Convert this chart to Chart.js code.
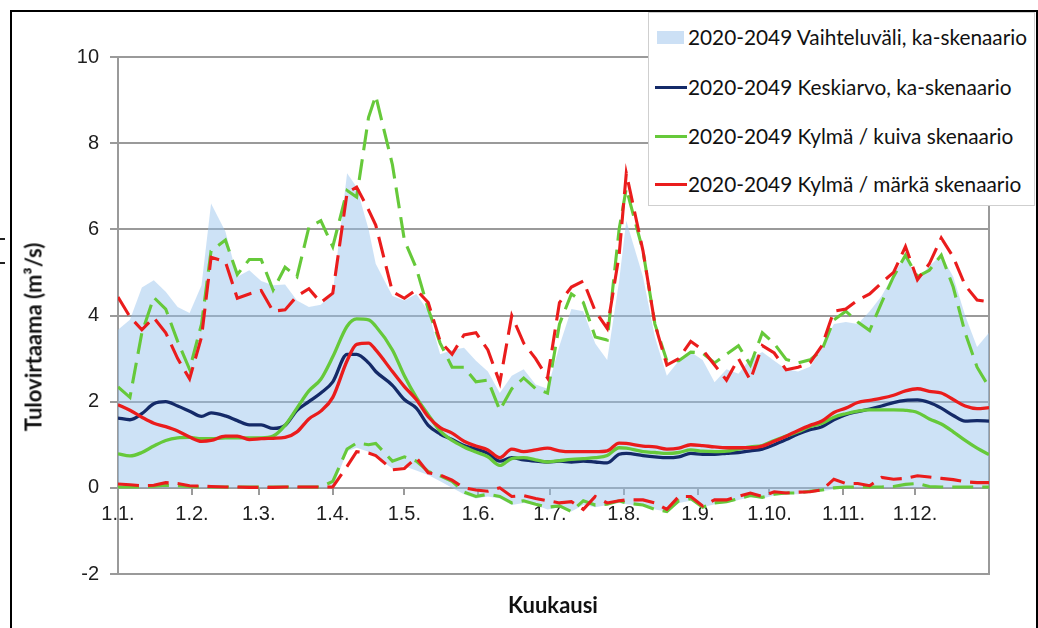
<!DOCTYPE html>
<html lang="fi">
<head>
<meta charset="utf-8">
<title>Tulovirtaama 2020-2049</title>
<script src="https://cdn.jsdelivr.net/npm/chart.js@4.4.1/dist/chart.umd.min.js"></script>
<style>
  html, body { margin: 0; padding: 0; background: #fff; overflow: hidden; }
  #wrap { position: relative; width: 1038px; height: 628px; overflow: hidden; }
  #frame { position: absolute; left: 10px; top: 10px; width: 1024px; height: 700px; border: 2px solid #000; }
  .tick-mark { position: absolute; left: 0; width: 5px; height: 2px; background: #222; }
  canvas { position: absolute; left: 0; top: 0; }
  .axis-title { position: absolute; font: bold 22px Lato, sans-serif; color: #111; white-space: nowrap; }
  #ytitle { left: 33px; top: 337px; transform: translate(-50%, -50%) rotate(-90deg); }
  #xtitle { left: 553px; top: 604px; transform: translate(-50%, -50%); }
  #legend { position: absolute; left: 648px; top: 12px; width: 387px; height: 194px; background: #fff;
            border: 1px solid #cfcfcf; box-sizing: border-box; }
  .lg-row { position: absolute; left: 0; height: 26px; }
  .lg-sw { position: absolute; }
  .lg-txt { position: absolute; left: 39px; top: 0; line-height: 26px; font: 20.8px Lato, sans-serif; color: #111; white-space: nowrap; }
</style>
</head>
<body>
<div id="wrap">
  <div id="frame"></div>
  <div class="tick-mark" style="top:238px"></div>
  <div class="tick-mark" style="top:262px"></div>
  <canvas id="chart" width="1038" height="628"></canvas>
  <div id="ytitle" class="axis-title">Tulovirtaama (m³/s)</div>
  <div id="xtitle" class="axis-title">Kuukausi</div>
  <div id="legend"></div>
</div>
<script>
// Day of year for each sample
const days = [0, 5, 10, 15, 20, 25, 30, 35, 39, 45, 50, 55, 60, 65, 70, 75, 80, 85, 90, 96,
  100, 105, 108, 115, 120, 125, 130, 135, 140, 145, 150, 155, 160, 165, 170, 175, 180, 185, 190, 195,
  200, 205, 210, 213, 220, 225, 230, 235, 240, 245, 250, 255, 260, 265, 270, 275, 280, 285, 290, 295,
  300, 305, 310, 315, 320, 325, 330, 335, 340, 345, 350, 355, 360, 365];

// ka-skenaario: range upper and lower bound
const rangeMax = [3.67, 3.9, 4.65, 4.82, 4.55, 4.2, 4.06, 4.7, 6.6, 5.95, 4.9, 5.05, 4.8, 4.7, 4.72, 4.35, 4.2, 4.25, 4.52, 7.3,
  6.98, 6.0, 5.2, 4.45, 4.35, 4.5, 4.1, 3.1, 3.2, 3.25, 2.95, 2.7, 2.2, 2.6, 2.75, 2.4, 2.3, 3.3, 4.15, 4.1,
  3.35, 2.97, 4.8, 6.2, 4.9, 3.5, 2.6, 2.95, 3.15, 2.97, 2.45, 2.75, 2.65, 3.0, 3.15, 2.95, 2.75, 2.7, 2.81, 3.25,
  3.8, 3.85, 3.8, 4.1, 4.45, 4.95, 5.4, 4.83, 5.15, 5.4, 4.9, 4.0, 3.27, 3.6];
const rangeMin = [0, 0, 0, 0, 0, 0, 0, 0, 0, 0, 0, 0, 0, 0, 0, 0, 0, 0, 0, 0.85,
  0.93, 0.84, 0.72, 0.45, 0.5, 0.4, 0.3, 0.15, 0.0, -0.15, -0.25, -0.2, -0.25, -0.4, -0.35, -0.4, -0.5, -0.45, -0.55, -0.4,
  -0.45, -0.4, -0.35, -0.38, -0.42, -0.5, -0.55, -0.35, -0.3, -0.45, -0.38, -0.35, -0.28, -0.22, -0.25, -0.18, -0.15, -0.15, -0.1, -0.08,
  -0.03, 0, 0, 0, 0, 0, 0, 0, 0, 0, 0, 0, 0, 0];

// ka-skenaario: mean
const meanKa = [1.62, 1.58, 1.72, 1.95, 2.0, 1.9, 1.78, 1.66, 1.74, 1.67, 1.56, 1.46, 1.46, 1.38, 1.45, 1.8, 2.0, 2.2, 2.46, 3.1,
  3.1, 2.9, 2.7, 2.38, 2.05, 1.85, 1.45, 1.25, 1.12, 0.98, 0.9, 0.8, 0.62, 0.7, 0.65, 0.62, 0.6, 0.62, 0.6, 0.62,
  0.6, 0.58, 0.78, 0.8, 0.75, 0.72, 0.7, 0.72, 0.8, 0.78, 0.78, 0.8, 0.82, 0.86, 0.9, 1.0, 1.12, 1.25, 1.35, 1.42,
  1.58, 1.7, 1.77, 1.83, 1.9, 1.98, 2.03, 2.04, 1.98, 1.85, 1.68, 1.55, 1.56, 1.55];

// Kylmä / kuiva: mean, upper and lower
const dryMean = [0.79, 0.74, 0.82, 0.97, 1.1, 1.16, 1.17, 1.14, 1.14, 1.16, 1.16, 1.16, 1.16, 1.2, 1.45, 1.85, 2.25, 2.52, 3.04, 3.75,
  3.92, 3.9, 3.75, 3.2, 2.6, 2.1, 1.7, 1.32, 1.1, 0.95, 0.83, 0.72, 0.52, 0.68, 0.7, 0.65, 0.6, 0.63, 0.66, 0.68,
  0.7, 0.75, 0.93, 0.92, 0.84, 0.82, 0.8, 0.82, 0.88, 0.85, 0.84, 0.85, 0.9, 0.95, 0.98, 1.1, 1.2, 1.3, 1.42, 1.5,
  1.64, 1.72, 1.78, 1.81, 1.81, 1.81, 1.8, 1.75, 1.6, 1.48, 1.3, 1.1, 0.92, 0.77];
const dryMax = [2.34, 2.1, 3.6, 4.42, 4.15, 3.4, 2.75, 3.8, 5.5, 5.75, 4.95, 5.3, 5.3, 4.59, 5.12, 4.9, 6.05, 6.2, 5.6, 6.9,
  6.75, 8.6, 9.1, 7.5, 5.75, 5.1, 4.15, 3.36, 2.8, 2.8, 2.46, 2.5, 1.8, 2.3, 2.55, 2.3, 2.2, 3.8, 4.5, 4.3,
  3.5, 3.43, 6.0, 6.95, 5.5, 3.8, 2.95, 2.95, 3.15, 3.13, 2.9, 3.1, 3.3, 2.85, 3.6, 3.35, 2.98, 2.9, 2.97, 3.2,
  3.9, 4.1, 3.85, 3.65, 4.3, 4.9, 5.4, 4.9, 5.05, 5.4, 4.66, 3.6, 2.8, 2.34];
const dryMin = [0.02, 0.02, 0.02, 0.04, 0.06, 0.05, 0.03, 0.02, 0.02, 0.02, 0.02, 0.02, 0.02, 0.02, 0.02, 0.02, 0.02, 0.02, 0.15, 0.9,
  1.04, 1.0, 1.03, 0.62, 0.72, 0.62, 0.38, 0.28, 0.15, -0.1, -0.2, -0.15, -0.2, -0.35, -0.3, -0.38, -0.45, -0.42, -0.55, -0.3,
  -0.4, -0.38, -0.3, -0.35, -0.4, -0.5, -0.55, -0.3, -0.25, -0.45, -0.35, -0.32, -0.25, -0.18, -0.22, -0.15, -0.12, -0.12, -0.08, -0.05,
  0.0, 0.02, 0.02, 0.02, 0.02, 0.03, 0.08, 0.1, 0.03, 0.02, 0.02, 0.02, 0.02, 0.02];

// Kylmä / märkä: mean, upper and lower
const wetMean = [1.93, 1.8, 1.64, 1.5, 1.42, 1.32, 1.18, 1.08, 1.1, 1.2, 1.2, 1.12, 1.14, 1.15, 1.17, 1.3, 1.6, 1.78, 2.1, 2.95,
  3.33, 3.36, 3.2, 2.7, 2.35, 2.05, 1.65, 1.4, 1.27, 1.08, 0.97, 0.88, 0.7, 0.9, 0.84, 0.88, 0.92, 0.86, 0.84, 0.84,
  0.84, 0.86, 1.04, 1.03, 0.97, 0.95, 0.9, 0.92, 1.0, 0.98, 0.95, 0.93, 0.93, 0.93, 0.97, 1.08, 1.2, 1.33, 1.45, 1.55,
  1.75, 1.85, 1.98, 2.03, 2.08, 2.15, 2.25, 2.3, 2.24, 2.2, 2.05, 1.9, 1.84, 1.86];
const wetMax = [4.43, 3.97, 3.67, 3.95, 3.6, 3.0, 2.53, 3.5, 5.35, 5.25, 4.4, 4.5, 4.58, 4.1, 4.13, 4.45, 4.62, 4.3, 4.52, 6.85,
  6.98, 6.45, 6.1, 4.55, 4.4, 4.6, 4.3, 3.4, 3.1, 3.55, 3.6, 3.2, 2.44, 4.0, 3.36, 3.0, 2.55, 4.3, 4.66, 4.8,
  4.1, 3.7, 5.4, 7.3, 5.5, 3.8, 2.85, 3.0, 3.4, 3.2, 2.85, 2.5, 3.0, 2.5, 3.3, 3.13, 2.74, 2.8, 2.9, 3.3,
  4.1, 4.15, 4.36, 4.5, 4.76, 5.0, 5.6, 4.83, 5.2, 5.8, 5.36, 4.7, 4.36, 4.32];
const wetMin = [0.09, 0.07, 0.05, 0.06, 0.12, 0.1, 0.05, 0.04, 0.03, 0.02, 0.02, 0.01, 0.01, 0.01, 0.02, 0.02, 0.02, 0.02, 0.02, 0.5,
  0.84, 0.81, 0.75, 0.42, 0.45, 0.7, 0.35, 0.3, 0.18, 0.0, -0.05, -0.08, 0.0, -0.2, -0.18, -0.25, -0.3, -0.35, -0.32, -0.5,
  -0.2, -0.35, -0.3, -0.28, -0.28, -0.35, -0.5, -0.2, -0.2, -0.42, -0.28, -0.28, -0.2, -0.12, -0.2, -0.09, -0.12, -0.1, -0.09, -0.05,
  0.2, 0.1, 0.1, 0.05, 0.24, 0.2, 0.22, 0.28, 0.25, 0.22, 0.19, 0.14, 0.12, 0.12];

// Month starts on the day axis and their labels
const monthStarts = [0, 31, 59, 90, 120, 151, 181, 212, 243, 273, 304, 334];
const monthLabels = ['1.1.', '1.2.', '1.3.', '1.4.', '1.5.', '1.6.', '1.7.', '1.8.', '1.9.', '1.10.', '1.11.', '1.12.'];

const seriesLabels = [
  '2020-2049 Vaihteluväli, ka-skenaario',
  '2020-2049 Keskiarvo, ka-skenaario',
  '2020-2049 Kylmä / kuiva skenaario',
  '2020-2049 Kylmä / märkä skenaario'
];

const FILL = 'rgba(150, 194, 236, 0.48)';
const NAVY = '#142a68';
const GREEN = '#66c93a';
const RED = '#ea1c1c';
const GRID = '#9a9a9a';
const TEXT = '#1e1e1e';
const DASH = [21, 9];

const pts = vals => days.map((d, i) => ({ x: d, y: vals[i] }));

const solid = (label, vals, color) => ({
  label, data: pts(vals), borderColor: color, borderWidth: 3.3, pointRadius: 0,
  fill: false, cubicInterpolationMode: 'monotone'
});
const dashed = (label, vals, color) => ({
  label, data: pts(vals), borderColor: color, borderWidth: 3.1, borderDash: DASH,
  pointRadius: 0, fill: false, tension: 0
});

// First dataset is drawn on top
const datasets = [
  solid(seriesLabels[3], wetMean, RED),
  solid(seriesLabels[2], dryMean, GREEN),
  solid(seriesLabels[1], meanKa, NAVY),
  dashed(seriesLabels[3] + ' max', wetMax, RED),
  dashed(seriesLabels[3] + ' min', wetMin, RED),
  dashed(seriesLabels[2] + ' max', dryMax, GREEN),
  dashed(seriesLabels[2] + ' min', dryMin, GREEN),
  { label: seriesLabels[0], data: pts(rangeMax), borderColor: 'transparent', borderWidth: 0,
    backgroundColor: FILL, pointRadius: 0, fill: '+1', tension: 0 },
  { label: seriesLabels[0] + ' min', data: pts(rangeMin), borderColor: 'transparent', borderWidth: 0,
    pointRadius: 0, fill: false, tension: 0 }
];

// Right-hand edge of the plot area
const plotFrame = {
  id: 'plotFrame',
  beforeDatasetsDraw(chart) {
    const { ctx, chartArea: a } = chart;
    ctx.save();
    ctx.strokeStyle = GRID;
    ctx.lineWidth = 2;
    ctx.beginPath();
    ctx.moveTo(a.right, a.top);
    ctx.lineTo(a.right, a.bottom + 1);
    ctx.stroke();
    ctx.restore();
  }
};

const tickFont = { family: '"Liberation Sans", Arial, sans-serif', size: 20 };

const chart = new Chart(document.getElementById('chart'), {
  type: 'line',
  data: { datasets },
  options: {
    responsive: false,
    animation: false,
    devicePixelRatio: 1,
    layout: { padding: { top: 57, bottom: 54, left: 0, right: 49 } },
    plugins: { legend: { display: false }, title: { display: false }, tooltip: { enabled: false } },
    scales: {
      x: {
        type: 'linear', min: 0, max: 365,
        position: { y: 0 },
        afterBuildTicks: s => { s.ticks = monthStarts.map(v => ({ value: v })); },
        ticks: {
          autoSkip: false, maxRotation: 0, padding: 9, color: TEXT, font: tickFont,
          callback: v => monthLabels[monthStarts.indexOf(v)]
        },
        grid: { display: true, drawOnChartArea: false, drawTicks: true, tickLength: 6, color: GRID, lineWidth: 2 },
        border: { display: true, color: GRID, width: 2 }
      },
      y: {
        min: -2, max: 10,
        ticks: { stepSize: 2, padding: 11, color: TEXT, font: tickFont, callback: v => String(v) },
        grid: { color: GRID, lineWidth: 2, tickLength: 8 },
        border: { display: true, color: GRID, width: 2 },
        afterFit: s => { s.width = 118; }
      }
    }
  },
  plugins: [plotFrame]
});

// Legend built from the series labels and dataset styles
const legend = document.getElementById('legend');
const rowCenters = [24, 74, 123, 171];
const legendItems = [
  { text: seriesLabels[0], kind: 'box', color: 'rgb(204, 224, 245)' },
  { text: seriesLabels[1], kind: 'line', color: NAVY },
  { text: seriesLabels[2], kind: 'line', color: GREEN },
  { text: seriesLabels[3], kind: 'line', color: RED }
];
legendItems.forEach((item, i) => {
  const row = document.createElement('div');
  row.className = 'lg-row';
  row.style.top = (rowCenters[i] - 13) + 'px';
  const sw = document.createElement('div');
  sw.className = 'lg-sw';
  if (item.kind === 'box') {
    sw.style.cssText = 'left:8px;top:7px;width:27px;height:13px;background:' + item.color;
  } else {
    sw.style.cssText = 'left:6px;top:12px;width:32px;height:3px;background:' + item.color;
  }
  const tx = document.createElement('div');
  tx.className = 'lg-txt';
  tx.textContent = item.text;
  row.appendChild(sw);
  row.appendChild(tx);
  legend.appendChild(row);
});
</script>
</body>
</html>
